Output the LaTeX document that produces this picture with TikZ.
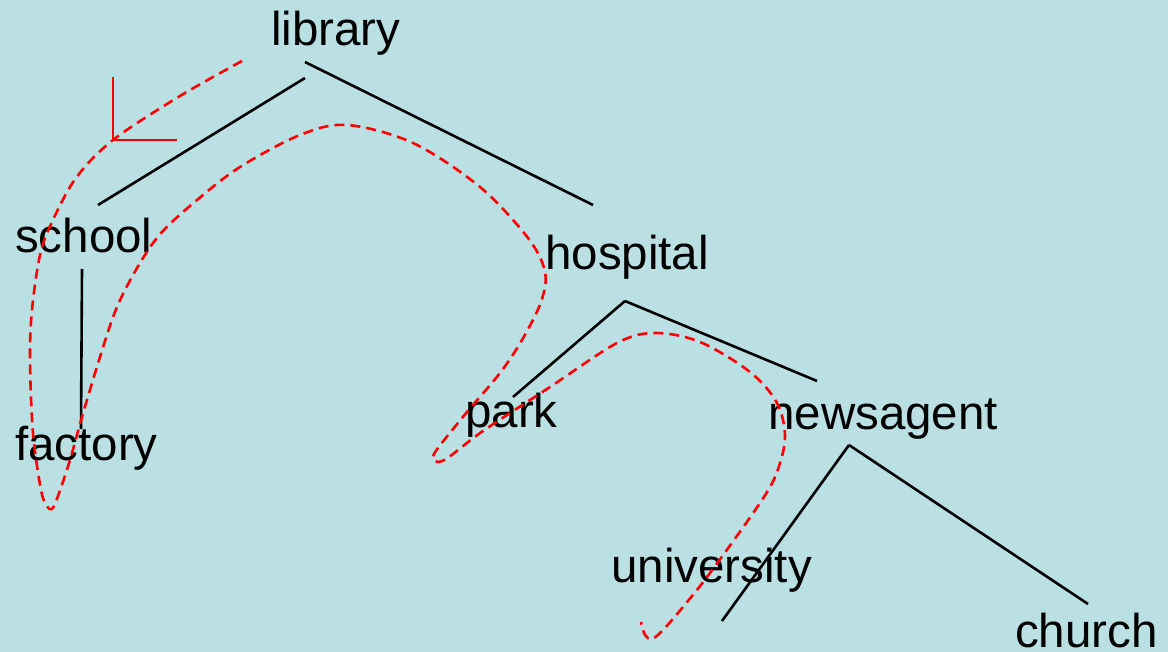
\documentclass[tikz,border=0pt]{standalone}
\usepackage{fontspec}
\setmainfont{Liberation Sans}
\definecolor{bgblue}{RGB}{186,224,227}
\begin{document}
\begin{tikzpicture}[x=1pt,y=-1pt,
  word/.style={anchor=base west,inner sep=0pt,font=\fontsize{47.5}{57}\selectfont,text=black},
  branch/.style={draw=black,line width=2.6pt},
  walk/.style={draw=red,line width=2.6pt,dash pattern=on 10pt off 6pt},
  marker/.style={draw=red,line width=2.8pt}]
\fill[bgblue] (0,0) rectangle (1168,652);
\useasboundingbox (0,0) rectangle (1168,652);
% nodes
\node[word] (library) at (271,46) {library};
\node[word] (school) at (15,253) {school};
\node[word] (hospital) at (545,270) {hospital};
\node[word] (factory) at (15,460) {factory};
\node[word] (park) at (465,428) {park};
\node[word] (newsagent) at (768,429) {newsagent};
\node[word] (university) at (611,582) {university};
\node[word] (church) at (1015,647) {church};
% branch end points
\coordinate (libA) at (305,78);
\coordinate (libB) at (305,62);
\coordinate (schT) at (98,205);
\coordinate (hosT) at (593,205);
\coordinate (schB) at (82,269);
\coordinate (facT) at (81,429);
\coordinate (hosB) at (625,301);
\coordinate (parkT) at (513,397);
\coordinate (newsT) at (817,381);
\coordinate (newsB) at (849,445);
\coordinate (uniT) at (722,621);
\coordinate (chT) at (1088,604);
\draw[branch] (libA) -- (schT);
\draw[branch] (libB) -- (hosT);
\draw[branch] (schB) -- (facT);
\draw[branch] (hosB) -- (parkT);
\draw[branch] (hosB) -- (newsT);
\draw[branch] (newsB) -- (uniT);
\draw[branch] (newsB) -- (chT);
% marker
\coordinate (mk) at (113,140);
\coordinate (mkUp) at (113,77);
\coordinate (mkR) at (177,140);
\draw[marker] (mkUp) -- (mk) -- (mkR);
% traversal walk
\draw[walk] plot[smooth,tension=0.55] coordinates {
 (242,61) (180,96) (113,140) (76,178) (52,222) (40,255) (32,310) (30,360)
 (33,433) (41,490) (47,506) (52,509) (58,496) (70,460) (82,417) (100,357)
 (117,307) (140,263) (162,232) (197,200) (240,167) (300,135) (347,125)
 (413,143) (480,187) (528,238) (545,272) (541,302) (522,340) (500,373)
 (467,412) (438,448) (433,458) (438,462) (449,457) (483,431) (550,387)
 (617,343) (655,333) (700,342) (750,372) (777,403) (785,437) (777,472)
 (760,503) (710,573) (683,607) (663,630) (652,639) (645,635) (641,622)};
\end{tikzpicture}
\end{document}
